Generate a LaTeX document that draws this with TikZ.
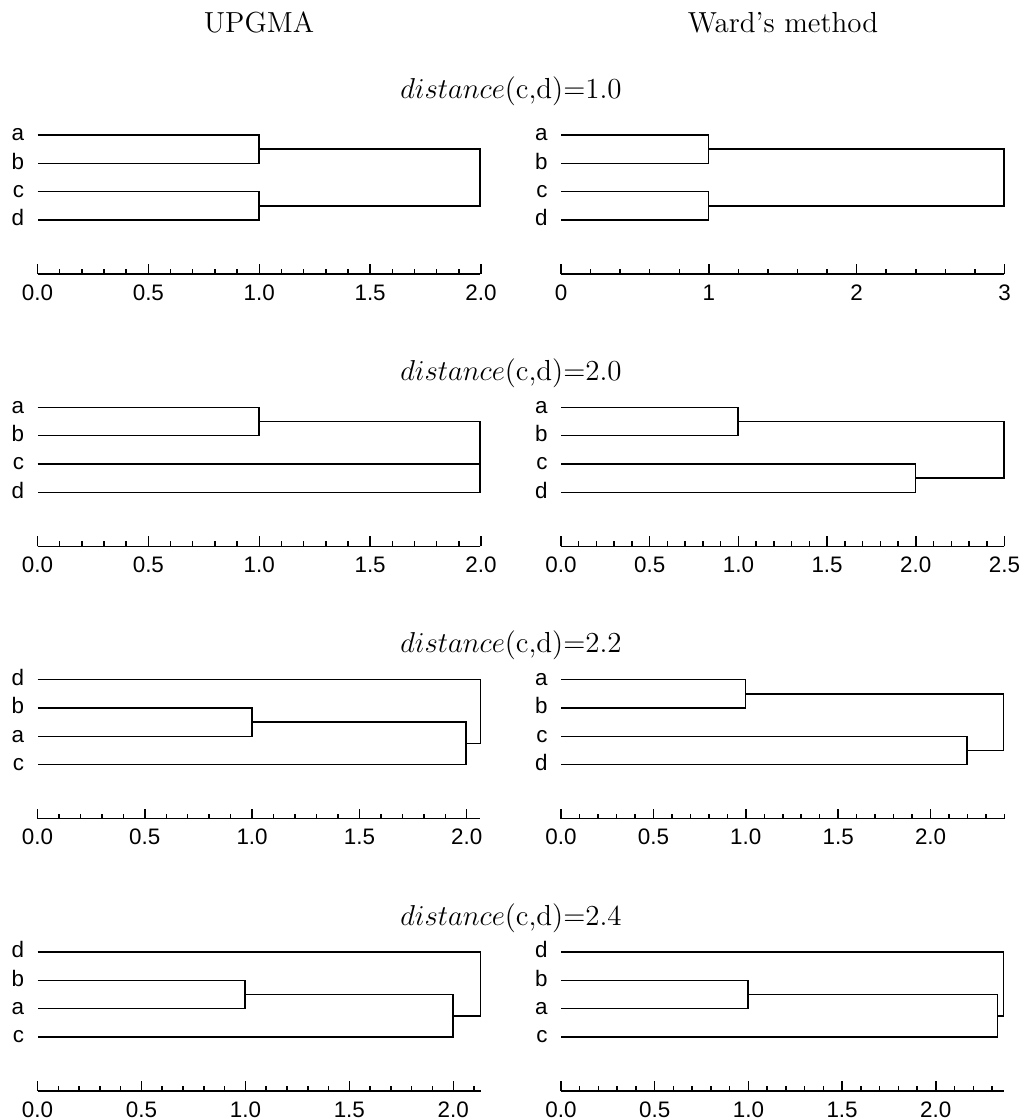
\documentclass[tikz,border=0pt]{standalone}
\usepackage{fontspec}
\setsansfont{Liberation Sans}

\newcommand\leaffont{\sffamily\fontsize{11.2}{13}\selectfont}
\newcommand\headfont{\fontsize{14.5}{17}\selectfont}

\tikzset{
  link/.style={line width=0.75pt, line join=miter},
  axisline/.style={line width=0.75pt},
  leaflab/.style={font=\leaffont, anchor=base east, inner sep=0pt, xshift=-6.5pt},
  ticklab/.style={font=\leaffont, anchor=base, inner sep=0pt},
  headlab/.style={font=\headfont, anchor=base, inner sep=0pt},
}

% ((r1,r2),(r3,r4)): #1 prefix, #2-#5 leaf labels, #6 h12, #7 h34, #8 top height
\newcommand\balancedtree[8]{%
  \foreach \lab/\ry [count=\k] in {#2/0,#3/28.33,#4/56.67,#5/85} {
    \node[leaflab] (#1-n\k) at (0,\ry+5.8) {\lab};
    \coordinate (#1-l\k) at (0,\ry);
  }
  \coordinate (#1-m12) at (#6,14.17);
  \coordinate (#1-m34) at (#7,70.83);
  \coordinate (#1-top) at (#8,42.5);
  \draw[link] (#1-l1) -| (#1-m12) |- (#1-l2);
  \draw[link] (#1-l3) -| (#1-m34) |- (#1-l4);
  \draw[link] (#1-m12) -| (#1-top) |- (#1-m34);
}

% (r1,((r2,r3),r4)): #1 prefix, #2-#5 leaf labels, #6 h23, #7 h234, #8 top height
\newcommand\chaintree[8]{%
  \foreach \lab/\ry [count=\k] in {#2/0,#3/28.33,#4/56.67,#5/85} {
    \node[leaflab] (#1-n\k) at (0,\ry+5.8) {\lab};
    \coordinate (#1-l\k) at (0,\ry);
  }
  \coordinate (#1-m23) at (#6,42.5);
  \coordinate (#1-m234) at (#7,63.75);
  \coordinate (#1-top) at (#8,31.875);
  \draw[link] (#1-l2) -| (#1-m23) |- (#1-l3);
  \draw[link] (#1-m23) -| (#1-m234) |- (#1-l4);
  \draw[link] (#1-l1) -| (#1-top) |- (#1-m234);
}

% height axis: #1 prefix, #2 max, #3 minor intervals, #4 minor step, #5 labelled values
\newcommand\dendaxis[5]{%
  \coordinate (#1-a0) at (0,139);
  \coordinate (#1-a1) at (#2,139);
  \draw[axisline] (#1-a0) -- (#1-a1);
  \foreach \i in {0,...,#3} \draw[axisline] (\i*#4,139) -- ++(0,-5);
  \foreach \v/\t [count=\k] in {#5} {
    \draw[axisline] (\v,139) -- ++(0,-10);
    \node[ticklab] (#1-t\k) at (\v,165) {\t};
  }
}

\begin{document}
\begin{tikzpicture}[x=0.5pt, y=-0.5pt]
\useasboundingbox (0,0) rectangle (1025,1120);

\node[headlab] (hU) at (259,32) {UPGMA};
\node[headlab] (hW) at (783,32) {Ward’s method};

% distance(c,d) = 1.0
\node[headlab] (t1) at (511,98) {$distance$(c,d)=1.0};
\begin{scope}[shift={(37.5,135)}, xscale=221.75]
  \balancedtree{p1L}{a}{b}{c}{d}{1}{1}{2}
  \dendaxis{p1L}{2}{20}{0.1}{0/0.0,0.5/0.5,1/1.0,1.5/1.5,2/2.0}
\end{scope}
\begin{scope}[shift={(561,135)}, xscale=147.83]
  \balancedtree{p1R}{a}{b}{c}{d}{1}{1}{3}
  \dendaxis{p1R}{3}{15}{0.2}{0/0,1/1,2/2,3/3}
\end{scope}

% distance(c,d) = 2.0
\node[headlab] (t2) at (511,380.33) {$distance$(c,d)=2.0};
\begin{scope}[shift={(37.5,407.33)}, xscale=221.75]
  \balancedtree{p2L}{a}{b}{c}{d}{1}{2}{2}
  \dendaxis{p2L}{2}{20}{0.1}{0/0.0,0.5/0.5,1/1.0,1.5/1.5,2/2.0}
\end{scope}
\begin{scope}[shift={(561,407.33)}, xscale=177.4]
  \balancedtree{p2R}{a}{b}{c}{d}{1}{2}{2.5}
  \dendaxis{p2R}{2.5}{25}{0.1}{0/0.0,0.5/0.5,1/1.0,1.5/1.5,2/2.0,2.5/2.5}
\end{scope}

% distance(c,d) = 2.2
\node[headlab] (t3) at (511,652.67) {$distance$(c,d)=2.2};
\begin{scope}[shift={(37.5,679.67)}, xscale=214.6]
  \chaintree{p3L}{d}{b}{a}{c}{1}{2}{2.06667}
  \dendaxis{p3L}{2.06667}{20}{0.1}{0/0.0,0.5/0.5,1/1.0,1.5/1.5,2/2.0}
\end{scope}
\begin{scope}[shift={(561,679.67)}, xscale=184.79]
  \balancedtree{p3R}{a}{b}{c}{d}{1}{2.2}{2.4}
  \dendaxis{p3R}{2.4}{24}{0.1}{0/0.0,0.5/0.5,1/1.0,1.5/1.5,2/2.0}
\end{scope}

% distance(c,d) = 2.4
\node[headlab] (t4) at (511,925) {$distance$(c,d)=2.4};
\begin{scope}[shift={(37.5,952)}, xscale=207.89]
  \chaintree{p4L}{d}{b}{a}{c}{1}{2}{2.13333}
  \dendaxis{p4L}{2.13333}{21}{0.1}{0/0.0,0.5/0.5,1/1.0,1.5/1.5,2/2.0}
\end{scope}
\begin{scope}[shift={(561,952)}, xscale=187.39]
  \chaintree{p4R}{d}{b}{a}{c}{1}{2.33333}{2.36667}
  \dendaxis{p4R}{2.36667}{23}{0.1}{0/0.0,0.5/0.5,1/1.0,1.5/1.5,2/2.0}
\end{scope}
\end{tikzpicture}
\end{document}
